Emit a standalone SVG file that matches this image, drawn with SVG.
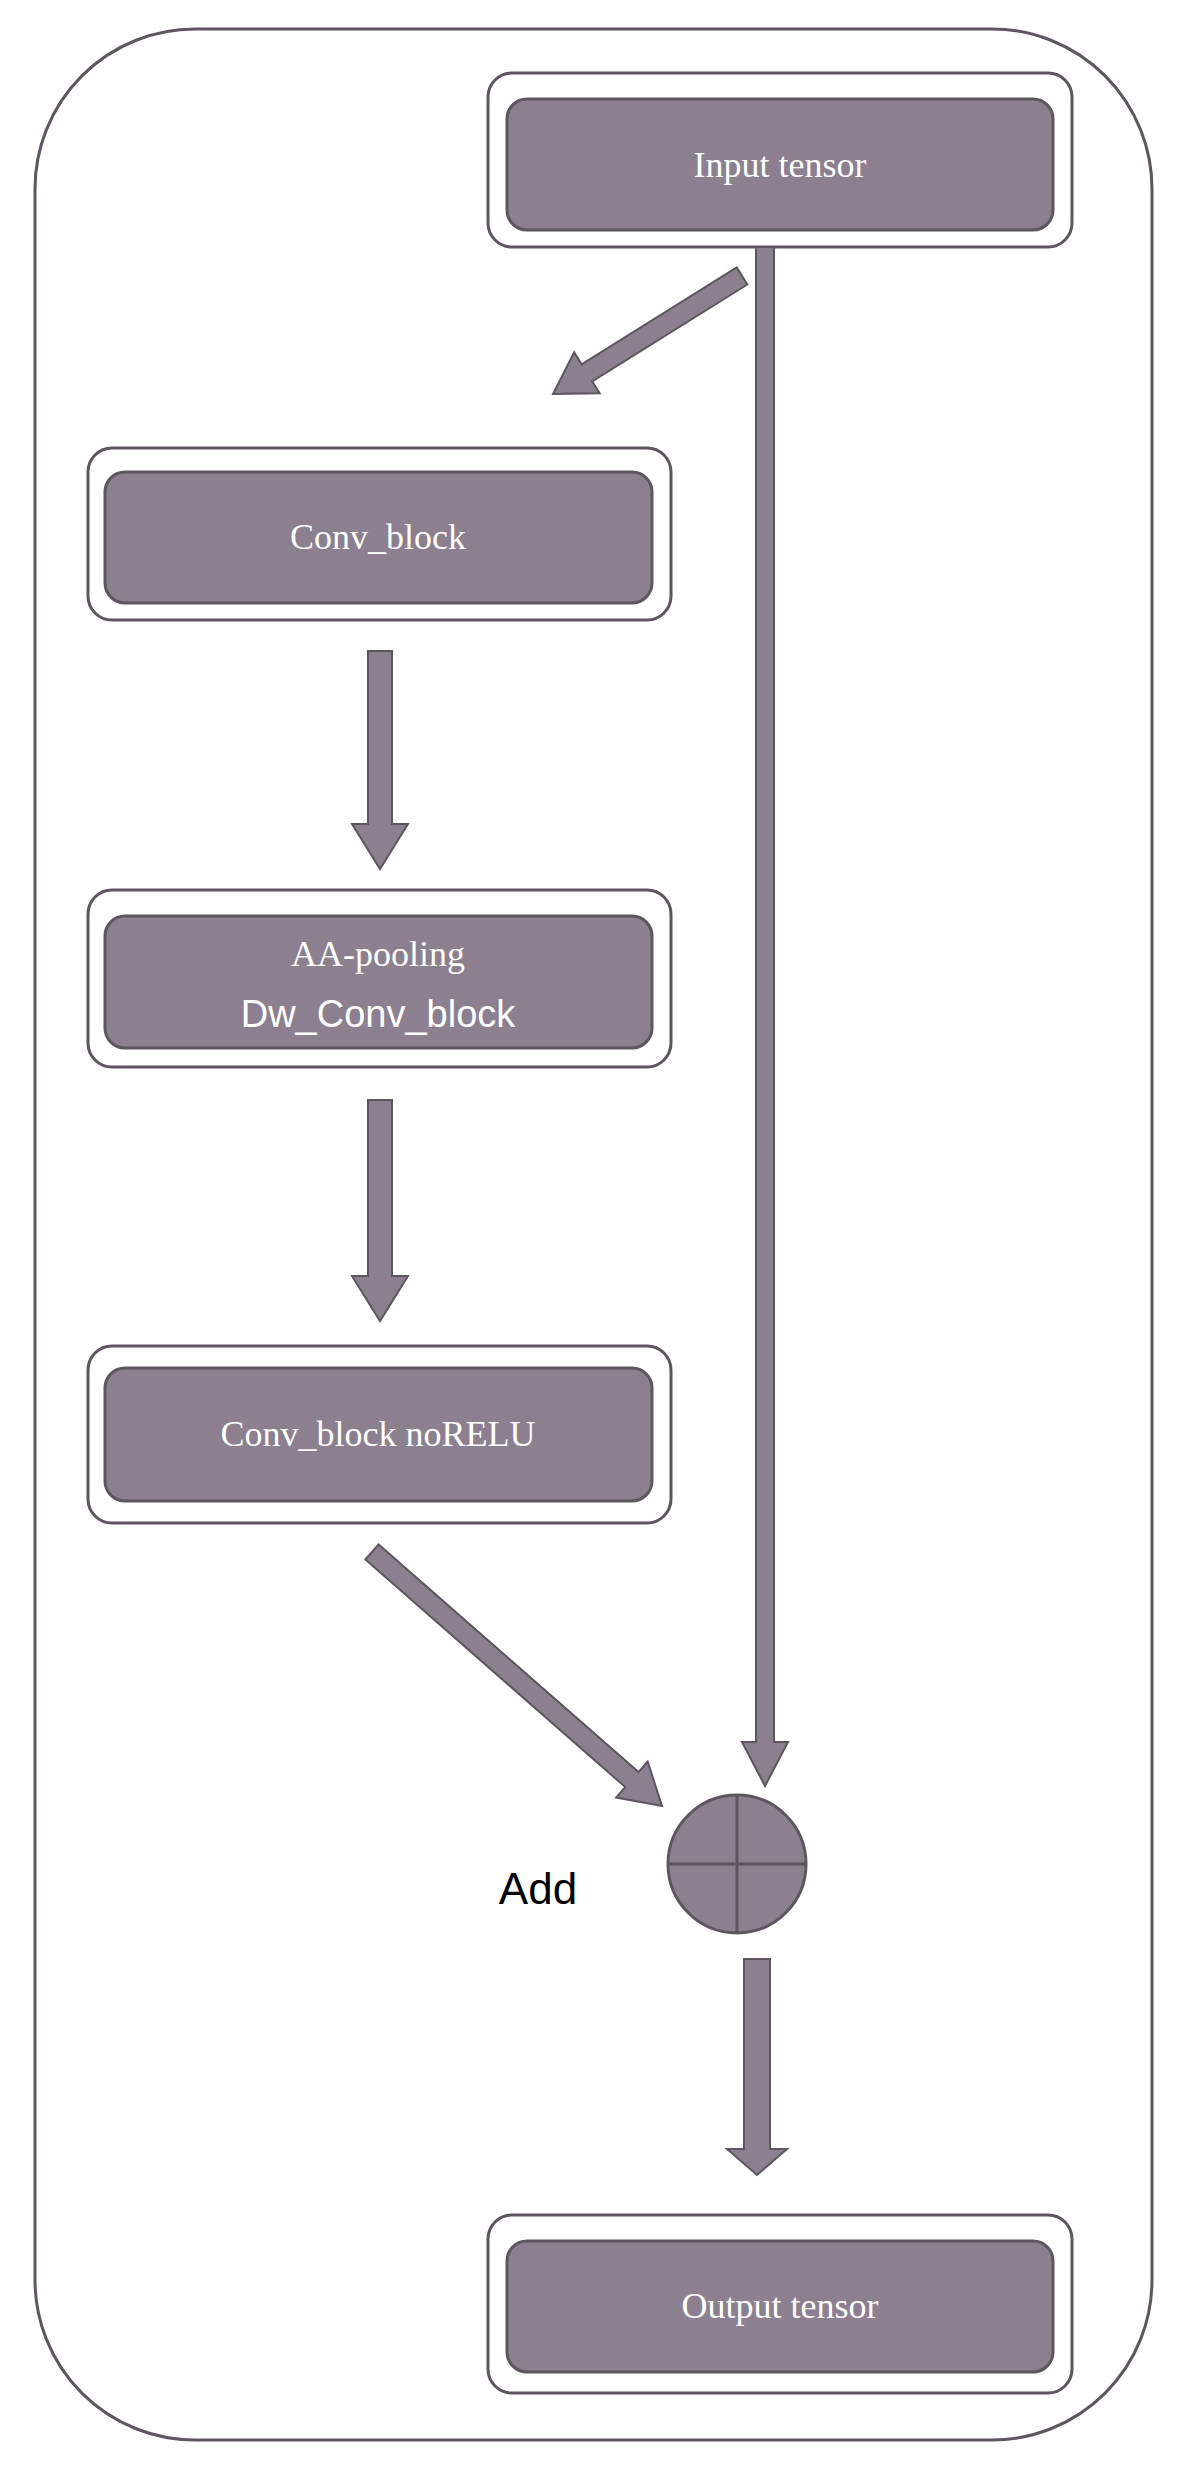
<svg xmlns="http://www.w3.org/2000/svg" width="1185" height="2471" viewBox="0 0 1185 2471">
<style>
.o{fill:#fff;stroke:#5e5560;stroke-width:3}
.i{fill:#8c7f8f;stroke:#5e5560;stroke-width:3}
.t{font-family:"Liberation Serif",serif;font-size:36px;fill:#fff;text-anchor:middle}
.s{font-family:"Liberation Sans",sans-serif;font-size:38px;fill:#fff;text-anchor:middle}
.a{fill:#8c7f8f;stroke:#5e5560;stroke-width:2}
</style>
<rect x="0" y="0" width="1185" height="2471" fill="#fff"/>
<rect x="35" y="29" width="1117" height="2411" rx="160" fill="#fff" stroke="#5e5560" stroke-width="3"/>
<g id="input"><rect class="o" x="488" y="73" width="584" height="174" rx="24"/><rect class="i" x="507" y="99" width="546" height="131" rx="20"/><text class="t" x="780" y="177">Input tensor</text></g>
<g id="conv"><rect class="o" x="88" y="448" width="583" height="172" rx="24"/><rect class="i" x="105" y="472" width="547" height="131" rx="20"/><text class="t" x="378" y="549">Conv_block</text></g>
<g id="aa"><rect class="o" x="88" y="890" width="583" height="177" rx="24"/><rect class="i" x="105" y="916" width="547" height="132" rx="20"/><text class="t" x="378" y="966">AA-pooling</text><text class="s" x="378" y="1027">Dw_Conv_block</text></g>
<g id="norelu"><rect class="o" x="88" y="1346" width="583" height="177" rx="24"/><rect class="i" x="105" y="1368" width="547" height="133" rx="20"/><text class="t" x="378" y="1446">Conv_block noRELU</text></g>
<g id="output"><rect class="o" x="488" y="2215" width="584" height="178" rx="24"/><rect class="i" x="507" y="2241" width="546" height="131" rx="20"/><text class="t" x="780" y="2318">Output tensor</text></g>
<g id="add"><circle class="i" cx="737" cy="1864" r="69"/><line x1="737" y1="1795" x2="737" y2="1933" stroke="#5e5560" stroke-width="3"/><line x1="668" y1="1864" x2="806" y2="1864" stroke="#5e5560" stroke-width="3"/><text x="538" y="1904" font-family="Liberation Sans,sans-serif" font-size="44" fill="#000" text-anchor="middle">Add</text></g>
<g id="connectors">
<polygon class="a" points="747.3,284.5 592.2,381.3 599.6,393.2 553,394 574.2,352.4 581.6,364.3 736.7,267.5"/>
<polygon class="a" points="756,247 774,247 774,1742 788,1742 765,1786 742,1742 756,1742"/>
<polygon class="a" points="368,651 392,651 392,824 408,824 380,869 352,824 368,824"/>
<polygon class="a" points="368,1100 392,1100 392,1276 408,1276 380,1321 352,1276 368,1276"/>
<polygon class="a" points="365.4,1559.5 625.3,1787.1 616.1,1797.6 662,1806 647.7,1761.6 638.5,1772.1 378.6,1544.5"/>
<polygon class="a" points="744,1959 770,1959 770,2149 787,2149 757,2175 727,2149 744,2149"/>
</g>
</svg>
